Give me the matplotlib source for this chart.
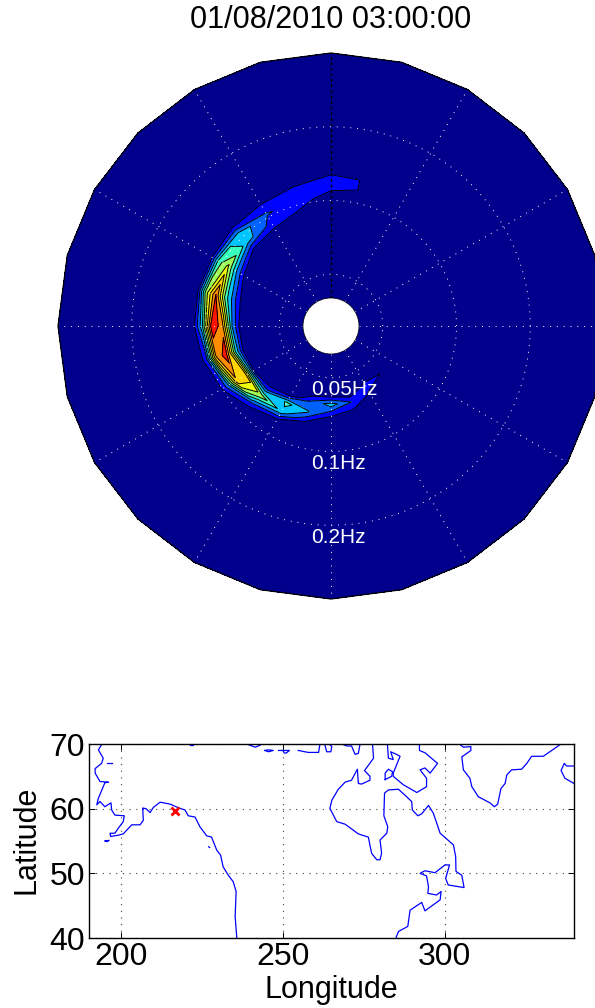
import numpy as np
import matplotlib
matplotlib.use("Agg")
import matplotlib.pyplot as plt
from matplotlib.colors import ListedColormap, BoundaryNorm
from matplotlib.patches import Circle

plt.rcParams['font.family'] = ['Liberation Sans', 'DejaVu Sans']

# ------------------ wave spectrum ----------------------
titulo = "01/08/2010 03:00:00"
freq_min = 0.04
freq_ratio = 1.1
n_freq = 25
n_dir = 24
anel_freq = [0.05, 0.1, 0.2, 0.4]
anel_texto = ["0.05Hz", "0.1Hz", "0.2Hz"]

# energy per direction (degrees), for frequency bins 3 to 12, all the rest is zero
dir_graus = [75, 90, 105, 120, 135, 150, 165, 180, 195, 210, 225, 240, 255, 270, 285, 300, 315]
e_075 = [0, 0, 0, 0, 0, 0, 0, 0, 0.83, 0.93]
e_090 = [0, 0, 0, 0, 0, 0, 0, 0.3, 1.5, 1.2]
e_105 = [0, 0, 0, 0, 0, 0, 0.9, 1.6, 1.6, 0.3]
e_120 = [0, 0, 0, 0, 0, 0.6, 1.6, 2.1, 1.1, 0]
e_135 = [0, 0, 0, 0, 0, 0.9, 3.5, 3.6, 0.9, 0]
e_150 = [0, 0, 0, 0, 0.6, 3, 6.2, 4.5, 0, 0]
e_165 = [0, 0, 0, 0, 2, 4.5, 9.05, 5.5, 0, 0]
e_180 = [0, 0, 0, 0, 3, 8.6, 9.7, 3.5, 0, 0]
e_195 = [0, 0, 0, 0, 4, 9.6, 7.9, 1.5, 0, 0]
e_210 = [0, 0, 0, 0.9, 7.7, 7.8, 2.5, 0.3, 0, 0]
e_225 = [0, 0, 0, 1.4, 5.6, 2.2, 0, 0, 0, 0]
e_240 = [0, 0, 0, 4.3, 3.6, 0.5, 0, 0, 0, 0]
e_255 = [0, 0.2, 2.2, 3.1, 0.95, 0, 0, 0, 0, 0]
e_270 = [0, 0.2, 3.5, 1.2, 0, 0, 0, 0, 0, 0]
e_285 = [0, 0, 2, 0.7, 0, 0, 0, 0, 0, 0]
e_300 = [0, 1.4, 0.8, 0, 0, 0, 0, 0, 0, 0]
e_315 = [0, 1.02, 0, 0, 0, 0, 0, 0, 0, 0]
linhas_e = [e_075, e_090, e_105, e_120, e_135, e_150, e_165, e_180, e_195,
            e_210, e_225, e_240, e_255, e_270, e_285, e_300, e_315]

niveis = [1, 2, 3, 4, 5, 6, 7, 8, 9]
jet_pos = [0.015, 0.13, 0.22, 0.32, 0.42, 0.54, 0.64, 0.68, 0.76, 0.89]

# ------------------ map ----------------------
ponto_lon = [216.5]
ponto_lat = [59.6]

costa_lon = [
    [193.9, 192.9, 194.4, 193.9, 191.9, 191.9, 193.4, 196.0, 194.9, 194.4, 192.9, 192.4, 193.4, 194.9, 196.8,
     197.0, 198.0, 200.9, 200.6, 199.1, 198.0, 196.5, 196.7, 199.1, 200.6, 203.2, 205.8, 206.8, 206.6, 207.6,
     208.9, 209.9, 212.0, 215.1, 218.1, 219.7, 220.7, 222.8, 224.3, 226.4, 227.9, 229.5, 230.7, 231.5, 233.1,
     234.6, 235.5, 235.2, 235.7],
    [195.7, 197.0],
    [195.0, 196.2, 195.6, 195.0],
    [227.0, 227.3],
    [221.2, 222.3],
    [239.3, 241.4, 242.9],
    [244.4, 245.5, 247.0, 245.5, 244.4],
    [248.6, 250.0, 250.4, 251.0, 252.0, 250.0],
    [254.7, 257.8, 261.0, 261.4],
    [263.0, 263.5, 264.8, 265.1, 264.5],
    [268.7, 269.7, 271.2, 272.3, 273.3, 273.8],
    [277.7, 278.0, 276.4, 275.2, 276.9, 276.9, 274.3, 273.3, 273.0, 271.2, 269.2, 267.1, 265.1, 264.5, 266.6,
     269.2, 273.3, 276.4, 277.4, 279.0, 280.0, 280.5, 280.0, 282.1, 282.4, 281.2, 281.4, 282.6, 285.7, 287.7,
     289.8, 290.0, 291.7, 292.9, 295.0, 296.5, 298.6, 302.7, 303.4, 303.5, 305.3, 306.0, 301.1, 300.3, 301.5,
     300.1, 297.0, 293.9, 292.4, 294.4, 295.0, 294.8, 297.5, 298.9, 298.6, 293.9, 292.9, 289.3, 288.6, 285.7,
     285.0],
    [281.6, 283.6, 283.9, 282.6, 281.6, 281.6],
    [282.3, 282.6, 284.1, 283.3, 284.9, 286.2, 284.1, 284.1, 287.2, 291.4, 294.4, 294.4, 292.4, 293.9, 295.5,
     297.8, 293.9, 292.2, 292.2],
    [304.8, 305.8, 308.1, 308.1, 305.3, 305.8, 307.8, 308.4, 310.4, 314.0, 315.4, 316.4, 317.4, 318.7, 319.2,
     320.7, 323.8, 325.4, 326.9, 330.5, 335.7],
    [340.0, 337.2, 336.0, 337.0, 337.7, 340.0],
]
costa_lat = [
    [69.9, 69.1, 67.8, 67.0, 66.2, 65.5, 64.2, 64.1, 64.0, 63.4, 61.6, 60.6, 61.1, 60.3, 60.9,
     59.8, 59.0, 58.9, 58.0, 57.0, 56.2, 56.2, 55.7, 55.9, 56.1, 57.5, 57.5, 58.2, 60.1, 60.0,
     59.4, 60.2, 61.0, 60.7, 60.05, 59.8, 58.9, 58.7, 57.2, 55.8, 55.6, 53.6, 52.8, 51.0, 49.7,
     48.7, 47.2, 43.3, 40.1],
    [67.0, 67.0],
    [55.0, 55.1, 54.9, 55.0],
    [54.1, 54.0],
    [69.85, 69.85],
    [69.9, 69.5, 69.8],
    [69.0, 68.8, 69.0, 69.1, 69.0],
    [69.0, 69.0, 68.6, 68.6, 69.0, 69.0],
    [69.0, 68.7, 68.7, 69.9],
    [69.8, 68.8, 68.8, 69.6, 69.9],
    [69.9, 69.7, 69.7, 68.4, 68.55, 69.9],
    [69.9, 67.8, 66.7, 65.9, 65.0, 64.4, 63.8, 63.9, 66.1, 64.4, 64.1, 63.0, 61.3, 60.05, 58.0,
     57.6, 56.1, 55.6, 53.1, 52.1, 52.1, 53.1, 55.15, 56.2, 57.2, 58.9, 62.4, 62.9, 63.0, 62.1,
     61.1, 59.8, 58.9, 59.2, 60.5, 59.3, 56.2, 54.4, 52.6, 50.3, 49.7, 47.8, 48.2, 49.2, 51.3,
     51.3, 50.1, 50.4, 50.0, 49.6, 47.9, 46.9, 46.65, 47.2, 45.9, 44.2, 45.5, 44.3, 41.8, 41.0,
     40.1],
    [64.5, 65.0, 65.7, 66.1, 65.5, 64.5],
    [69.9, 67.8, 67.6, 68.8, 68.45, 68.1, 65.5, 65.0, 63.7, 62.5, 63.4, 64.7, 66.0, 66.3, 65.5,
     67.0, 68.65, 69.0, 69.9],
    [69.9, 69.5, 69.6, 69.0, 68.0, 66.0, 64.7, 63.4, 61.85, 60.9, 60.3, 60.7, 63.1, 63.9, 65.2,
     66.0, 66.1, 67.0, 68.1, 68.1, 69.9],
    [63.9, 64.7, 65.9, 67.0, 66.6, 66.6],
]

# ------------------ figure ----------------------
W, H = 595, 1008
fig = plt.figure(figsize=(W / 100, H / 100), dpi=100)


def caixa(x0, y0, x1, y1):
    # pixel box, y from the top of the picture
    return [x0 / W, 1 - y1 / H, (x1 - x0) / W, (y1 - y0) / H]


buraco = 28 / 245.0


def raio(f):
    return buraco + np.log10(np.asarray(f) / freq_min)


R = float(raio(0.4))
cx, cy, rpx = 331, 326, 273
ax = fig.add_axes(caixa(cx - rpx, cy - rpx, cx + rpx, cy + rpx))
ax.set_xlim(-R, R)
ax.set_ylim(-R, R)
ax.axis('off')

freqs = freq_min * freq_ratio ** np.arange(n_freq)
rr = raio(freqs)
rr[-1] = R
theta = np.radians(np.arange(n_dir + 1) * 360.0 / n_dir)
Z = np.zeros((n_freq, n_dir + 1))
for d, linha in zip(dir_graus, linhas_e):
    Z[3:13, int(d / 15)] = linha

TH, RR = np.meshgrid(theta, rr)
X = RR * np.cos(TH)
Y = RR * np.sin(TH)

jet = matplotlib.colormaps['jet']
cores = ListedColormap([jet(p) for p in jet_pos])
limites = [-1] + niveis + [11]
ax.contourf(X, Y, Z, levels=limites, cmap=cores, norm=BoundaryNorm(limites, cores.N), zorder=1)
ax.contour(X, Y, Z, levels=niveis, colors='k', linewidths=0.7, zorder=2)
ax.plot(X[-1], Y[-1], color='k', lw=0.9, zorder=5, clip_on=False)

# polar grid
for a in range(0, 360, 30):
    if a == 90:
        continue
    t = np.radians(a)
    ax.plot([buraco * np.cos(t), R * np.cos(t)], [buraco * np.sin(t), R * np.sin(t)],
            color='w', lw=0.7, ls=(0, (1, 6)), zorder=3)
ax.plot([0, 0], [buraco, R], color='k', lw=1.0, ls=(0, (2, 2)), zorder=3)
t_anel = np.linspace(0, 2 * np.pi, 361)
for f in anel_freq[:-1]:
    ax.plot(raio(f) * np.cos(t_anel), raio(f) * np.sin(t_anel), color='w', lw=0.7, ls=(0, (1, 6)), zorder=3)

ax.add_patch(Circle((0, 0), buraco, fc='w', ec='k', lw=0.5, zorder=4))
for f, s in zip(anel_freq, anel_texto):
    ax.text(-20 / 245.0, -raio(f) - 0.049, s, color='w', fontsize=15, ha='left', va='center', zorder=6)

fig.text(331 / W, 1 - 20 / H, titulo, fontsize=22, ha='center', va='center')

# ------------------ location map ----------------------
mapa = fig.add_axes(caixa(89, 744, 574, 938))
for lo, la in zip(costa_lon, costa_lat):
    mapa.plot(lo, la, color='b', lw=0.9)
mapa.plot(ponto_lon, ponto_lat, 'x', color='r', markersize=6, markeredgewidth=2)
mapa.set_xlim(190, 340)
mapa.set_ylim(40, 70)
mapa.set_xticks([200, 250, 300])
mapa.set_yticks([40, 50, 60, 70])
mapa.grid(True, color='#444444', lw=0.8, ls=(0, (1, 5)))
mapa.tick_params(direction='in', top=True, right=True, length=4, width=0.7, labelsize=23, pad=3)
mapa.set_xlabel("Longitude", fontsize=22, va='center')
mapa.set_ylabel("Latitude", fontsize=22, va='center')
mapa.xaxis.set_label_coords(0.5, -0.268)
mapa.yaxis.set_label_coords(-0.128, 0.505)
for s in mapa.spines.values():
    s.set_linewidth(1.0)

fig.savefig("out.png", dpi=100)
